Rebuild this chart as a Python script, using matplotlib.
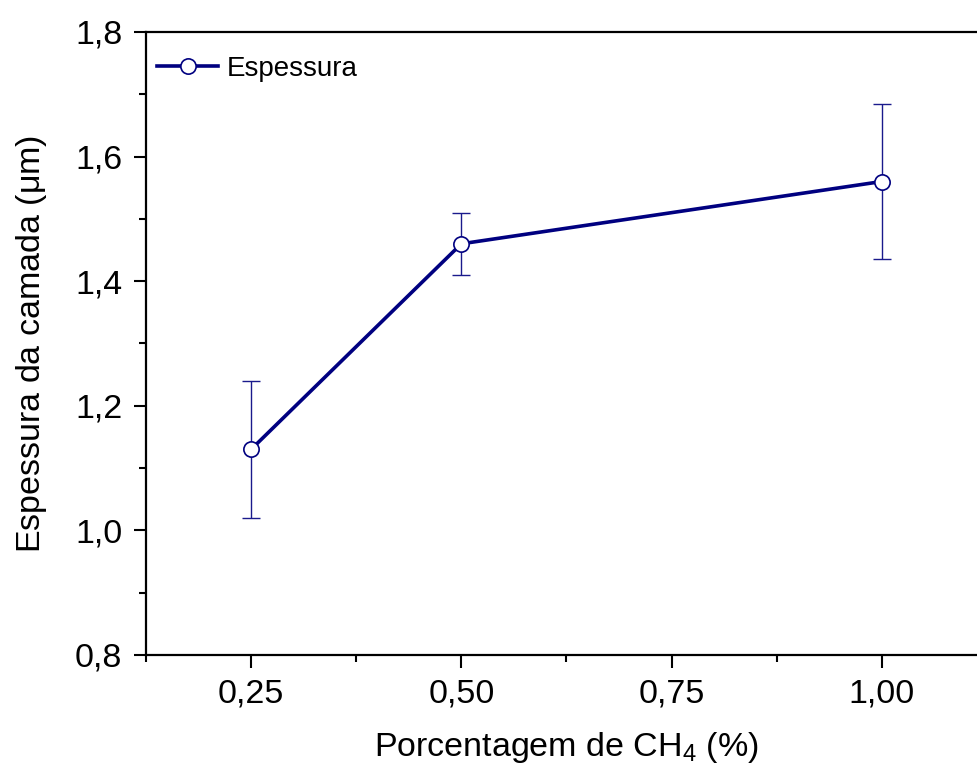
import matplotlib
matplotlib.use('Agg')
import matplotlib.pyplot as plt
from matplotlib.ticker import MultipleLocator, FuncFormatter

plt.rcParams['font.family'] = ['Liberation Sans', 'DejaVu Sans']
plt.rcParams['mathtext.fontset'] = 'custom'
plt.rcParams['mathtext.rm'] = 'Liberation Sans'
plt.rcParams['mathtext.it'] = 'Liberation Sans'

# data
ch4 = [0.25, 0.50, 1.00]
espessura = [1.13, 1.46, 1.56]
erro = [0.11, 0.05, 0.125]

fig = plt.figure(figsize=(9.77, 7.65), dpi=100)
ax = fig.add_axes([0.1494, 0.1438, 0.8608, 0.8144])

ax.errorbar(ch4, espessura, yerr=erro, fmt='none', ecolor='#1a1a8c',
            elinewidth=1.0, capsize=6.5, capthick=1.0, zorder=2)
ax.plot(ch4, espessura, '-o', color='#000080', lw=2.6, ms=11,
        mfc='white', mec='#000080', mew=1.2, label='Espessura', zorder=3)

ax.set_xlim(0.125, 1.125)
ax.set_ylim(0.8, 1.8)
ax.xaxis.set_major_locator(MultipleLocator(0.25))
ax.xaxis.set_minor_locator(MultipleLocator(0.125))
ax.yaxis.set_major_locator(MultipleLocator(0.2))
ax.yaxis.set_minor_locator(MultipleLocator(0.1))
ax.xaxis.set_major_formatter(FuncFormatter(lambda v, p: f'{v:.2f}'.replace('.', ',')))
ax.yaxis.set_major_formatter(FuncFormatter(lambda v, p: f'{v:.1f}'.replace('.', ',')))

ax.tick_params(which='both', direction='out', width=1.5, labelsize=24.5)
ax.tick_params(which='major', length=9, pad=8)
ax.tick_params(which='minor', length=5)
for s in ax.spines.values():
    s.set_linewidth(1.6)

ax.set_xlabel('Porcentagem de CH$_4$ (%)', fontsize=24.5, labelpad=15)
ax.set_ylabel('Espessura da camada ($\\mu$m)', fontsize=24.5, labelpad=19)

ax.legend(loc='upper left', frameon=False, fontsize=20, handlelength=2.2,
          handletextpad=0.3, borderaxespad=0.0, bbox_to_anchor=(0.0, 0.98))

fig.savefig('out.png', dpi=100)
